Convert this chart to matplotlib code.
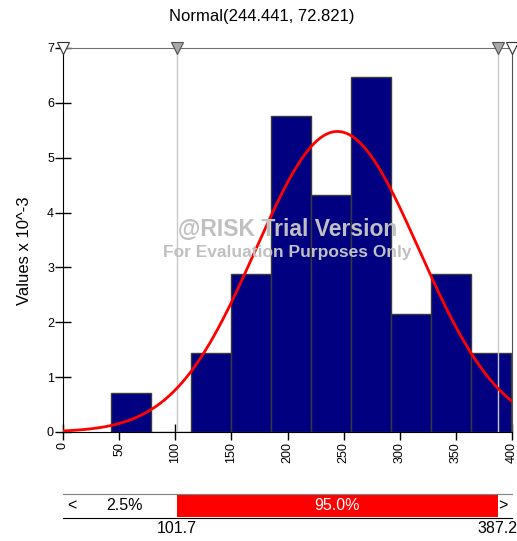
import numpy as np
import matplotlib
matplotlib.use('Agg')
import matplotlib.pyplot as plt

plt.rcParams['font.family'] = ['Liberation Sans', 'DejaVu Sans']

# Fitted distribution
mu = 244.441
sigma = 72.821

# Histogram (density, values x 10^-3)
bin_edges = [42.8, 78.4, 114.0, 149.6, 185.2, 220.8, 256.4, 292.0, 327.6, 363.2, 398.8]
bar_heights = [0.72, 0.0, 1.44, 2.88, 5.76, 4.32, 6.48, 2.16, 2.88, 1.44]

# Delimiters and probabilities
left_cut = 101.7
right_cut = 387.2
left_pct = "2.5%"
mid_pct = "95.0%"
x_ticks = [0, 50, 100, 150, 200, 250, 300, 350, 400]
y_ticks = [0, 1, 2, 3, 4, 5, 6, 7]

W, H = 517, 541
fig = plt.figure(figsize=(W / 100, H / 100), dpi=100)

# Main histogram axes
ax = fig.add_axes([63 / W, 1 - 432 / H, 449 / W, 384 / H])
ax.set_xlim(0, 400)
ax.set_ylim(0, 7)

widths = np.diff(bin_edges)
ax.bar(bin_edges[:-1], bar_heights, width=widths, align='edge',
       color='#000080', edgecolor='#3a3a3a', linewidth=1, zorder=2)

xs = np.linspace(0, 400, 400)
pdf = np.exp(-0.5 * ((xs - mu) / sigma) ** 2) / (sigma * np.sqrt(2 * np.pi)) * 1e3
ax.plot(xs, pdf, color='red', lw=2, zorder=4)

for c in (left_cut, right_cut):
    ax.axvline(c, color='#c8c8c8', lw=1, zorder=3)

# delimiter markers on the top edge
ax.plot([0, 400], [7, 7], 'v', ms=9, mfc='white', mec='#303030', mew=0.8,
        clip_on=False, zorder=6)
ax.plot([left_cut, right_cut], [7, 7], 'v', ms=9, mfc='#a8a8a8', mec='#505050',
        mew=0.8, clip_on=False, zorder=6)

ax.set_xticks(x_ticks)
ax.set_xticklabels([str(t) for t in x_ticks], rotation=90)
ax.set_yticks(y_ticks)
ax.tick_params(axis='both', direction='inout', length=11, width=1,
               labelsize=9, color='black')
ax.tick_params(axis='y', pad=1)
ax.tick_params(axis='x', pad=2)

ax.spines['left'].set_color('black')
ax.spines['bottom'].set_color('black')
ax.spines['top'].set_color('#707070')
ax.spines['right'].set_color('#505050')

# watermark
ax.text(200, 3.7, "@RISK Trial Version", ha='center', va='center',
        fontsize=16.5, fontweight='bold', color='#c0c0c0', zorder=5)
ax.text(200, 3.27, "For Evaluation Purposes Only", ha='center', va='center',
        fontsize=12.5, fontweight='bold', color='#c0c0c0', zorder=5)

fig.text(262 / W, 1 - 17 / H, "Normal(244.441, 72.821)", ha='center',
         va='center', fontsize=12)
fig.text(25 / W, 1 - 251 / H, "Values x 10^-3", ha='center', va='center',
         rotation=90, fontsize=12)

# Probability bar
bx = fig.add_axes([63 / W, 1 - 518 / H, 449 / W, 24 / H])
bx.set_xlim(0, 400)
bx.set_ylim(0, 1)
bx.axvspan(left_cut, right_cut, ymin=0.04, ymax=0.96, color='red', lw=0)
for s in ('left', 'right'):
    bx.spines[s].set_visible(False)
bx.spines['top'].set_color('#808080')
bx.spines['bottom'].set_color('black')
bx.set_xticks([])
bx.set_yticks([])
bx.text(4, 0.5, "<", ha='left', va='center', fontsize=11.5)
bx.text(396, 0.5, ">", ha='right', va='center', fontsize=11.5)
bx.text(left_cut / 2 + 4, 0.5, left_pct, ha='center', va='center', fontsize=11.5)
bx.text((left_cut + right_cut) / 2, 0.5, mid_pct, ha='center', va='center',
        fontsize=11.5, color='white')
bx.text(left_cut, -0.45, f"{left_cut:.1f}", ha='center', va='center', fontsize=11.5)
bx.text(right_cut, -0.45, f"{right_cut:.1f}", ha='center', va='center', fontsize=11.5)

fig.savefig('out.png', dpi=100)
